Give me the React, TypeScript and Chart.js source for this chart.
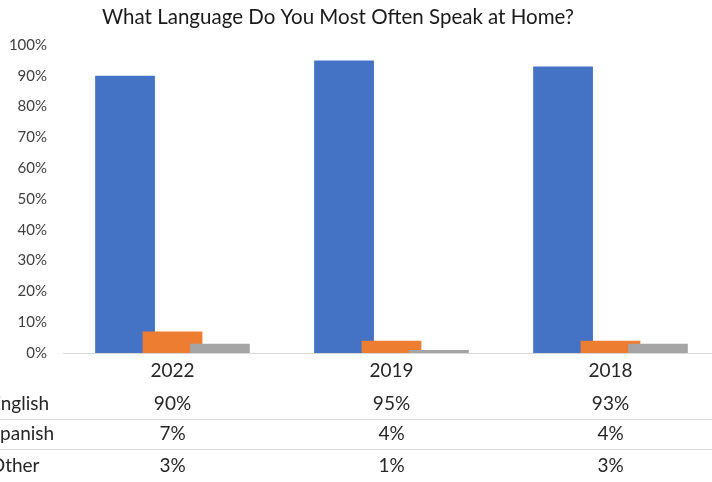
import React, { useEffect, useRef } from "react";
import { Chart, registerables } from "chart.js";

Chart.register(...registerables);

const TITLE = "What Language Do You Most Often Speak at Home?";
const categories = ["2022", "2019", "2018"];
const seriesNames = ["English", "Spanish", "Other"];
const english = [90, 95, 93];
const spanish = [7, 4, 4];
const other = [3, 1, 3];
const seriesColors = ["#4472C4", "#ED7D31", "#A5A5A5"];

const FONT = "Lato, 'Open Sans', sans-serif";

const drawOrderPlugin = {
  id: "drawOrder",
  beforeDatasetsDraw(chart: any) {
    const metas = chart.getSortedVisibleDatasetMetas();
    for (const meta of metas) meta.controller.draw();
    return false;
  },
};

const tablePlugin = {
  id: "dataTable",
  afterDraw(chart: any) {
    const ctx = chart.ctx as CanvasRenderingContext2D;
    const xs = chart.scales.x;
    ctx.save();
    // title
    ctx.fillStyle = "#1a1a1a";
    ctx.font = `20.5px ${FONT}`;
    ctx.textAlign = "center";
    ctx.textBaseline = "middle";
    ctx.fillText(TITLE, 338, 17);

    // header
    ctx.fillStyle = "#262626";
    ctx.font = `19px ${FONT}`;
    const headerY = 371;
    const rowYs = [404, 434, 466];
    categories.forEach((c, i) => {
      ctx.fillText(c, xs.getPixelForValue(i), headerY);
    });
    chart.data.datasets.forEach((ds: any, r: number) => {
      ctx.textAlign = "left";
      ctx.fillText(ds.label, -10, rowYs[r]);
      ctx.textAlign = "center";
      ds.data.forEach((v: number, i: number) => {
        ctx.fillText(`${v}%`, xs.getPixelForValue(i), rowYs[r]);
      });
    });
    // row separator lines
    ctx.strokeStyle = "#d9d9d9";
    ctx.lineWidth = 1;
    [419.5, 449.5].forEach((y) => {
      ctx.beginPath();
      ctx.moveTo(0, y);
      ctx.lineTo(chart.width, y);
      ctx.stroke();
    });
    ctx.restore();
  },
};

export default function App() {
  const ref = useRef<HTMLCanvasElement | null>(null);
  useEffect(() => {
    if (!ref.current) return;
    const chart = new Chart(ref.current, {
      type: "bar",
      data: {
        labels: categories,
        datasets: [english, spanish, other].map((d, i) => ({
          label: seriesNames[i],
          data: d,
          backgroundColor: seriesColors[i],
          borderWidth: 0,
          categoryPercentage: 0.65,
          barPercentage: 1.26,
        })),
      },
      options: {
        responsive: false,
        animation: false,
        devicePixelRatio: 1,
        layout: { padding: { top: 45, bottom: 129, left: 0, right: 0 } },
        plugins: {
          legend: { display: false },
          title: { display: false },
          tooltip: { enabled: false },
        },
        scales: {
          x: {
            grid: { display: false, drawTicks: false },
            border: { display: true, color: "#d9d9d9", width: 1 },
            ticks: { display: false },
            afterFit: (s: any) => {
              s.height = 0;
            },
          },
          y: {
            min: 0,
            max: 100,
            grid: { display: false, drawTicks: false },
            border: { display: false },
            ticks: {
              stepSize: 10,
              padding: 16,
              color: "#404040",
              font: { family: FONT, size: 15 },
              callback: (v: any) => `${v}%`,
            },
            afterFit: (s: any) => {
              s.width = 63;
            },
          },
        },
      },
      plugins: [drawOrderPlugin, tablePlugin],
    });
    return () => chart.destroy();
  }, []);
  return (
    <div
      style={{
        position: "fixed",
        left: 0,
        top: 0,
        width: 712,
        height: 482,
        overflow: "hidden",
        background: "#fff",
      }}
    >
      <canvas ref={ref} width={720} height={482} style={{ display: "block" }} />
    </div>
  );
}
